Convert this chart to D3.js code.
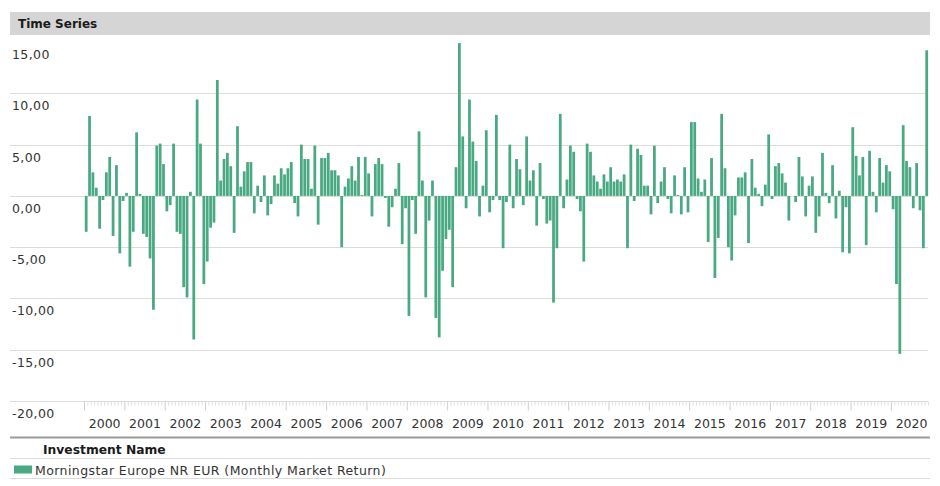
<!DOCTYPE html>
<html>
<head>
<meta charset="utf-8">
<script src="https://cdn.jsdelivr.net/npm/d3@7"></script>
<style>
  body { margin: 0; background: #fff; }
  svg { display: block; font-family: "DejaVu Sans", Verdana, sans-serif; }
</style>
</head>
<body>
<svg id="chart" width="940" height="486"></svg>
<script>
// monthly market return, Jan 2000 .. Nov 2020 (one row per year)
const startYear = 2000;
const monthlyReturns = [
  -3.5, 7.8, 2.3, 0.8, -3.2, -0.4, 2.3, 3.8, -3.9, 3.0, -5.6, -0.5,
  0.3, -6.9, -3.5, 6.2, 0.2, -3.7, -4.0, -6.1, -11.1, 4.9, 5.1, 3.1,
  -1.5, -0.9, 5.1, -3.5, -3.7, -8.9, -9.9, 0.4, -14.0, 9.4, 5.1, -8.6,
  -6.4, -3.1, -2.6, 11.3, 1.5, 3.6, 4.2, 2.9, -3.6, 6.8, 0.9, 2.4,
  3.3, 3.3, -1.7, 1.0, -0.6, 2.0, -1.9, -0.8, 2.0, 1.2, 2.7, 2.1,
  2.7, 3.3, -0.7, -2.0, 5.0, 3.6, 3.6, 0.7, 4.9, -2.8, 3.7, 3.7,
  4.2, 2.5, 2.5, 2.0, -5.0, 0.9, 1.7, 2.9, 1.5, 3.8, 0.1, 3.8,
  2.2, -2.0, 3.1, 3.7, 3.1, -0.2, -3.0, -1.1, 0.7, 3.2, -4.7, -1.2,
  -11.7, -0.4, -3.7, 6.3, 1.5, -9.9, -2.4, 1.5, -11.9, -13.8, -7.3, -4.2,
  -3.3, -8.9, 2.8, 14.9, 5.8, -1.2, 9.4, 5.3, 3.4, -2.0, 1.0, 6.4,
  -1.6, -0.4, 7.9, -0.4, -5.1, -0.6, 5.0, -1.2, 3.6, 2.6, -0.9, 5.8,
  1.5, 2.5, -2.9, 3.2, -0.3, -2.7, -2.4, -10.4, -5.1, 8.0, -1.2, 1.6,
  4.9, 4.3, -0.3, -1.5, -6.4, 5.1, 4.3, 2.0, 1.4, 0.7, 2.1, 1.4,
  2.8, 1.4, 1.6, 1.4, 2.1, -5.1, 5.0, -0.5, 4.6, 4.0, 1.0, 1.0,
  -1.8, 4.9, -0.7, 1.4, 2.8, -0.3, -1.7, 2.0, 0.1, -1.8, 2.8, -1.6,
  7.2, 7.2, 1.7, 0.4, 1.6, -4.5, 3.7, -8.0, -4.1, 8.0, 2.7, -5.0,
  -6.3, -1.9, 1.8, 1.8, 2.3, -4.6, 3.6, 0.8, 0.2, -1.0, 1.1, 6.0,
  -0.3, 2.9, 3.2, 2.2, 1.3, -2.4, 0.0, -0.6, 3.8, 1.9, -2.0, 1.0,
  1.9, -3.6, -2.0, 4.2, 0.3, -0.7, 3.0, -2.2, 0.5, -5.5, -1.1, -5.6,
  6.7, 3.9, 2.0, 3.8, -4.8, 4.4, 0.4, -1.6, 3.7, 1.3, 3.0, 2.4,
  -1.3, -8.6, -15.4, 6.9, 3.4, 2.8, -1.2, 3.2, -1.4, -5.1, 14.2
];
const yTicks = [-20, -15, -10, -5, 0, 5, 10, 15];
const yearLabels = d3.range(2000, 2021);
const seriesName = 'Morningstar Europe NR EUR (Monthly Market Return)';

const svg = d3.select('#chart');
const barColor = '#49a982';
const gridColor = '#dcdcdc';
const textColor = '#333';

const x = d3.scaleLinear()
    .domain([0, monthlyReturns.length])
    .range([84.5, 928.4]);

const y = d3.scaleLinear()
    .domain([-20, 15])
    .range([401, 42.1]);

const fmt = d3.formatLocale({decimal: ',', thousands: '.', grouping: [3], currency: ['', ''], minus: '-'}).format('.2f');

//header
svg.append('rect')
    .attr('x', 10).attr('y', 12)
    .attr('width', 920).attr('height', 23)
    .style('fill', '#d5d5d5');
svg.append('text')
    .text('Time Series')
    .attr('x', 18).attr('y', 28)
    .attr('font-size', 12)
    .attr('font-weight', 'bold')
    .attr('fill', '#1a1a1a');

//gridlines + labels
const grid = svg.append('g');
for (let t of yTicks) {
    if (t < 15) {
        grid.append('line')
            .attr('x1', 10).attr('x2', 928)
            .attr('y1', Math.round(y(t)) + 0.5).attr('y2', Math.round(y(t)) + 0.5)
            .style('stroke', gridColor)
            .style('stroke-width', 1);
    }
    grid.append('text')
        .text(fmt(t))
        .attr('x', 12)
        .attr('y', y(t) + 17)
        .attr('font-size', 12.5)
        .attr('letter-spacing', 0.4)
        .attr('fill', textColor);
}

//bars
svg.append('g')
    .selectAll('rect')
    .data(monthlyReturns)
    .join('rect')
    .attr('x', (d, i) => x(i) + 0.3)
    .attr('width', (d, i) => x(i + 1) - x(i) - 0.6)
    .attr('y', d => y(Math.max(0, d)))
    .attr('height', d => Math.abs(y(d) - y(0)))
    .style('fill', barColor);

//x axis ticks
const axis = svg.append('g');
const axisY = Math.round(y(-20)) + 0.5;
for (let i = 0; i <= monthlyReturns.length; i++) {
    let major = i % 12 === 0;
    axis.append('line')
        .attr('x1', x(i)).attr('x2', x(i))
        .attr('y1', axisY).attr('y2', axisY + (major ? 9 : 4))
        .style('stroke', major ? '#cfcfcf' : '#e0e0e0')
        .style('stroke-width', 1);
}
yearLabels.forEach(yr => {
    let i = (yr - startYear) * 12 + 6;
    axis.append('text')
        .text(yr)
        .attr('x', x(i))
        .attr('y', 428)
        .attr('text-anchor', 'middle')
        .attr('font-size', 12.5)
        .attr('fill', textColor);
});

//legend table
svg.append('line')
    .attr('x1', 10).attr('x2', 930)
    .attr('y1', 437.5).attr('y2', 437.5)
    .style('stroke', '#9a9a9a')
    .style('stroke-width', 2);
svg.append('text')
    .text('Investment Name')
    .attr('x', 43).attr('y', 454)
    .attr('font-size', 12.3)
    .attr('font-weight', 'bold')
    .attr('fill', '#1a1a1a');
svg.append('line')
    .attr('x1', 10).attr('x2', 930)
    .attr('y1', 458.5).attr('y2', 458.5)
    .style('stroke', gridColor);
svg.append('rect')
    .attr('x', 14).attr('y', 465.5)
    .attr('width', 18).attr('height', 8)
    .style('fill', barColor);
svg.append('text')
    .text(seriesName)
    .attr('x', 35).attr('y', 474.5)
    .attr('font-size', 12.5)
    .attr('letter-spacing', 0.42)
    .attr('fill', textColor);
svg.append('line')
    .attr('x1', 10).attr('x2', 930)
    .attr('y1', 478.5).attr('y2', 478.5)
    .style('stroke', gridColor);
</script>
</body>
</html>
